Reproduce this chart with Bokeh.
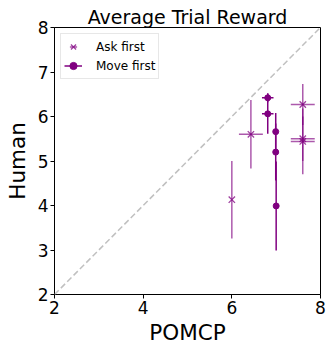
import math
from bokeh.plotting import figure
from bokeh.models import Range1d, Slope, Legend, LegendItem, FixedTicker
from bokeh.embed import file_html
from bokeh.resources import INLINE

# Ask first
ask_x = [6.00, 6.43, 7.60, 7.60, 7.60]
ask_y = [4.13, 5.60, 6.27, 5.50, 5.44]
ask_xerr = [0.00, 0.27, 0.27, 0.27, 0.27]
ask_yerr = [0.87, 0.77, 0.46, 0.50, 0.74]

# Move first
mv_x = [6.81, 6.81, 6.99, 6.99, 7.00]
mv_y = [6.42, 6.06, 5.66, 5.20, 3.99]
mv_xerr = [0.13, 0.13, 0.00, 0.00, 0.00]
mv_yerr = [0.10, 0.45, 0.42, 0.64, 1.00]

ticks = [2, 4, 6, 8]
yticks = [2, 3, 4, 5, 6, 7, 8]
PURPLE = "#800080"
FONT = "DejaVu Sans"
NAN = float("nan")

p = figure(width=326, height=347, output_backend="svg", toolbar_location=None,
           x_range=Range1d(2, 8), y_range=Range1d(2, 8),
           min_border_left=54, min_border_right=6, min_border_top=27, min_border_bottom=53,
           title="Average Trial Reward")
p.title.text_font = FONT
p.title.text_font_size = "19px"
p.title.text_font_style = "normal"
p.title.text_color = "black"
p.title.align = "center"
p.title.standoff = 0
p.title.offset = 0
p.xgrid.visible = False
p.ygrid.visible = False
p.outline_line_color = "black"
p.outline_line_width = 1
p.background_fill_color = "white"
p.border_fill_color = "white"

for ax in (p.xaxis, p.yaxis):
    ax.axis_label_text_font = FONT
    ax.axis_label_text_font_size = "21.5px"
    ax.axis_label_text_font_style = "normal"
    ax.axis_label_text_color = "black"
    ax.major_label_text_font = FONT
    ax.major_label_text_font_size = "17px"
    ax.major_label_text_color = "black"
    ax.major_label_standoff = 2
    ax.minor_tick_line_color = None
    ax.major_tick_in = 0
    ax.major_tick_out = 4
    ax.axis_line_color = "black"
    ax.major_tick_line_color = "black"
p.xaxis.axis_label = "POMCP"
p.yaxis.axis_label = "Human"
p.xaxis.ticker = FixedTicker(ticks=ticks)
p.yaxis.ticker = FixedTicker(ticks=yticks)
p.xaxis.axis_label_standoff = 3
p.yaxis.axis_label_standoff = 5
p.yaxis.major_label_orientation = "horizontal"

p.add_layout(Slope(gradient=1, y_intercept=0, line_color="#c0c0c0", line_width=1.5, line_dash="6 3"))

# Ask first error bars
p.segment(x0=ask_x, x1=ask_x,
          y0=[y - e for y, e in zip(ask_y, ask_yerr)], y1=[y + e for y, e in zip(ask_y, ask_yerr)],
          line_color=PURPLE, line_alpha=0.65, line_width=1.5)
p.segment(x0=[x - e for x, e in zip(ask_x, ask_xerr)], x1=[x + e for x, e in zip(ask_x, ask_xerr)],
          y0=ask_y, y1=ask_y, line_color=PURPLE, line_alpha=0.65, line_width=1.5)
p.scatter(ask_x, ask_y, marker="x", size=9, line_color=PURPLE, line_alpha=0.75, line_width=1.3)

# Move first error bars
p.segment(x0=mv_x, x1=mv_x,
          y0=[y - e for y, e in zip(mv_y, mv_yerr)], y1=[y + e for y, e in zip(mv_y, mv_yerr)],
          line_color=PURPLE, line_width=1.5)
p.segment(x0=[x - e for x, e in zip(mv_x, mv_xerr)], x1=[x + e for x, e in zip(mv_x, mv_xerr)],
          y0=mv_y, y1=mv_y, line_color=PURPLE, line_width=1.5)
p.scatter(mv_x, mv_y, marker="circle", size=6, color=PURPLE)

# legend proxies (NaN positions, never drawn in the plot)
la_v = p.scatter([NAN], [NAN], marker="dash", angle=math.pi / 2, size=14,
                 line_color=PURPLE, line_alpha=0.65, line_width=1.5)
la_x = p.scatter([NAN], [NAN], marker="x", size=10, line_color=PURPLE, line_alpha=0.75, line_width=1.3)
lb_line = p.line([NAN, NAN], [NAN, NAN], line_color=PURPLE, line_width=1.5)
lb = p.scatter([NAN], [NAN], marker="circle", size=6, color=PURPLE)

legend = Legend(items=[LegendItem(label="Ask first", renderers=[la_v, la_x]),
                       LegendItem(label="Move first", renderers=[lb_line, lb])],
                location="top_left", label_text_font=FONT, label_text_font_size="12px",
                label_text_color="black",
                border_line_color="#d0d0d0", border_line_width=1,
                background_fill_alpha=0.9, glyph_width=18, glyph_height=19,
                label_height=14, spacing=0, padding=3, margin=6, label_standoff=14)
p.add_layout(legend)

open("out.html", "w").write(file_html(p, INLINE))
